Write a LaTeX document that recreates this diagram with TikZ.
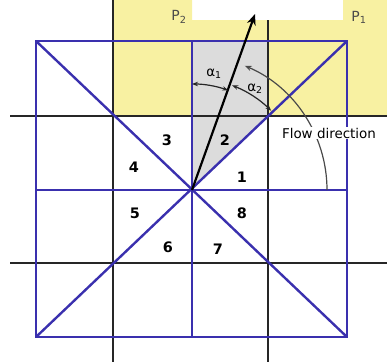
\documentclass[tikz,border=0pt]{standalone}
\usepackage{fontspec}
\setmainfont{DejaVu Sans}
\definecolor{gridblue}{HTML}{3A30AE}
\definecolor{padyellow}{HTML}{F8F1A2}
\definecolor{cellgray}{HTML}{DCDCDC}
\definecolor{labelgray}{HTML}{4A4A4A}
\usepackage{tikz}
\usetikzlibrary{arrows.meta}

\begin{document}
\begin{tikzpicture}[x=1bp,y=-1bp,>=Stealth,every node/.style={font=\fontsize{13.5}{15}\selectfont},
  gridline/.style={line width=2.2pt,black!85},
  blueline/.style={line width=2.4pt,gridblue},
  sector/.style={font=\fontsize{14.5}{16}\selectfont\bfseries},
  angarc/.style={line width=1.2pt,black!85,{Stealth[length=6pt]}-{Stealth[length=6pt]}}]
\useasboundingbox (0,0) rectangle (387,362);
% shaded areas
\fill[padyellow] (113,0) -- (192,0) -- (192,20) -- (343,20) -- (343,0) -- (387,0) -- (387,116) -- (113,116) -- cycle;
\fill[cellgray] (192,41) -- (268,41) -- (268,116) -- (192,190) -- cycle;
% black grid
\draw[gridline] (10,116) -- (387,116);
\draw[gridline] (10,263) -- (387,263);
\draw[gridline] (113,0) -- (113,362);
\draw[gridline] (268,20) -- (268,362);
% blue cell with its eight sectors
\coordinate (O) at (192,190);
\coordinate (NW) at (36,41);
\coordinate (NE) at (347,41);
\coordinate (SW) at (36,337);
\coordinate (SE) at (347,337);
\draw[blueline] (NW) rectangle (SE);
\draw[blueline] (NW) -- (SE);
\draw[blueline] (SW) -- (NE);
\draw[blueline] (192,41) -- (192,337);
\draw[blueline] (36,190) -- (347,190);
% flow direction and angles
\coordinate (tip) at (255,14);
\draw[line width=2.2pt,black,-{Stealth[length=11pt,width=9pt]}] (O) -- (tip);
\draw[angarc] ([shift={(-70:106)}]O) arc[start angle=-70,end angle=-90,radius=106];
\draw[angarc] ([shift={(-69:112)}]O) arc[start angle=-69,end angle=-45,radius=112];
\draw[line width=1.2pt,labelgray,-{Stealth[length=7pt]}] ([shift={(0:135)}]O) arc[start angle=0,end angle=-67,radius=135];
\node[fill=white,inner sep=1pt] (flow) at (329,133) {Flow direction};
\node (a1) at (214,74) {α\textsubscript{1}};
\node (a2) at (255,89) {α\textsubscript{2}};
% pads
\node[labelgray] (P2) at (179,17) {\fontsize{14}{16}\selectfont P\textsubscript{2}};
\node[labelgray] (P1) at (359,17) {\fontsize{14}{16}\selectfont P\textsubscript{1}};
% sector numbers
\node[sector] (s1) at (242,177) {1};
\node[sector] (s2) at (225,140) {2};
\node[sector] (s3) at (167,140) {3};
\node[sector] (s4) at (134,167) {4};
\node[sector] (s5) at (135,213) {5};
\node[sector] (s6) at (168,247) {6};
\node[sector] (s7) at (218,249) {7};
\node[sector] (s8) at (242,213) {8};
\end{tikzpicture}
\end{document}
